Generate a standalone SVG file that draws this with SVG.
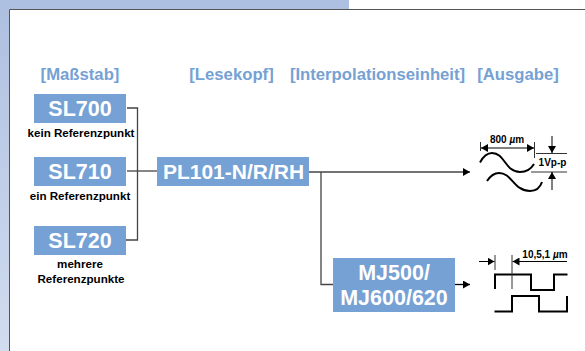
<svg xmlns="http://www.w3.org/2000/svg" width="585" height="351" viewBox="0 0 585 351">
<defs>
<linearGradient id="bg" x1="0" y1="0" x2="0" y2="1"><stop offset="0" stop-color="#adbfe0"/><stop offset="1" stop-color="#d2dcef"/></linearGradient>
<marker id="a" markerUnits="userSpaceOnUse" markerWidth="7" markerHeight="8" refX="7" refY="4" orient="auto"><path d="M0 0L7 4L0 8Z" fill="#000"/></marker>
</defs>
<style>
text{font-family:"Liberation Sans",Arial,sans-serif;font-weight:bold;text-anchor:middle}
.box{fill:#75a1d4}
.head{font-size:16.7px;fill:#75a1d4}
.name{font-size:21.5px;fill:#fff}
.small{font-size:11.6px;fill:#000}
.dimt{font-size:10px;fill:#000}
.conn{fill:none;stroke:#444;stroke-width:1.3}
.wave{fill:none;stroke:#000;stroke-width:2}
.dim{fill:none;stroke:#333;stroke-width:1}
.arr{marker-end:url(#a)}
</style>
<rect width="585" height="351" fill="#fff"/>
<path d="M0 0H349V9H9V351H0Z" fill="url(#bg)"/>
<path d="M9.5 351V9.5H585" fill="none" stroke="#555" stroke-width="1"/>
<text class="head" x="80" y="80">[Maßstab]</text>
<text class="head" x="231.500" y="80">[Lesekopf]</text>
<text class="head" x="377.500" y="80">[Interpolationseinheit]</text>
<text class="head" x="518" y="80">[Ausgabe]</text>
<g id="connectors">
<path class="conn" d="M127 108H137.500V240H126"/>
<path class="conn" d="M127 171H157"/>
<path class="conn arr" d="M309 172H470"/>
<path class="conn" d="M321 172V284.500H333"/>
<path class="conn arr" d="M455 284.500H470" style="stroke:#000"/>
</g>
<g id="sl700"><rect class="box" x="34" y="94" width="92" height="29"/><text class="name" x="80" y="116">SL700</text><text class="small" x="81" y="137">kein Referenzpunkt</text></g>
<g id="sl710"><rect class="box" x="34" y="157" width="92" height="29"/><text class="name" x="80" y="179">SL710</text><text class="small" x="80" y="200">ein Referenzpunkt</text></g>
<g id="sl720"><rect class="box" x="34" y="226" width="92" height="29"/><text class="name" x="80" y="248">SL720</text><text class="small" x="80" y="268">mehrere</text><text class="small" x="81" y="283">Referenzpunkte</text></g>
<g id="pl101"><rect class="box" x="157" y="157" width="152" height="29"/><text class="name" x="233.500" y="179" style="font-size:21px">PL101-N/R/RH</text></g>
<g id="mj"><rect class="box" x="333" y="258" width="122" height="54"/><text class="name" x="394" y="280">MJ500/</text><text class="name" x="394" y="305">MJ600/620</text></g>
<g id="output-analog">
<path class="wave" d="M480 162.500C484 155 488 153 492 153C505 153 505 172 520 172C527 172 531 169 534 164"/>
<path class="wave" d="M487 181C491 175 495 173 499 173C512 173 514 191 530 191C536 191 540 188 542 182"/>
<path class="dim" d="M480.500 142V151M534.500 142V158M536 153.500H567M531 172H567"/>
<path class="dim arr" d="M507 148H481" style="stroke:#000"/>
<path class="dim arr" d="M507 148H534" style="stroke:#000"/>
<path class="dim arr" d="M552 136V153" style="stroke:#000"/>
<path class="dim arr" d="M552 190V172" style="stroke:#000"/>
<text class="dimt" x="507" y="143">800 <tspan font-style="italic">µ</tspan>m</text>
<text class="dimt" x="552.500" y="166">1Vp-p</text>
</g>
<g id="output-digital">
<path class="wave" d="M495 289V274.500H531V290H554V274.500H567.500"/>
<path class="wave" d="M494.500 311.500H512V296H539V311.500H567V296"/>
<path class="dim" d="M495 255V270M512 255V289"/>
<path class="dim arr" d="M479 261.500H494.500" style="stroke:#000"/>
<path class="dim arr" d="M567 261.500H512.500" style="stroke:#000"/>
<text class="dimt" x="545" y="258">10,5,1 <tspan font-style="italic">µ</tspan>m</text>
</g>
</svg>
